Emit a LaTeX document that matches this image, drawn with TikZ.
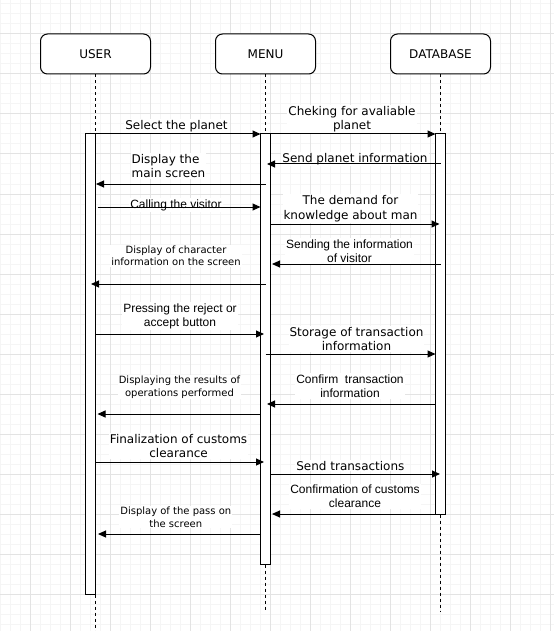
\documentclass[tikz,border=0pt]{standalone}
\usepackage{fontspec}
\setmainfont{DejaVu Sans}
\newfontfamily\arialf{Liberation Sans}
\usetikzlibrary{arrows.meta}
\begin{document}
\begin{tikzpicture}[x=1pt,y=-1pt,
  big/.style={font=\fontsize{12}{14.4}\selectfont, align=center, inner sep=1pt, fill=white},
  med/.style={font=\arialf\fontsize{12}{14.4}\selectfont, align=center, inner sep=1pt, fill=white},
  small/.style={font=\fontsize{10}{12.4}\selectfont, align=center, inner sep=1pt, fill=white},
  actor/.style={draw, line width=1pt, rounded corners=7pt, minimum height=40pt, inner sep=0pt, font=\fontsize{12}{14.4}\selectfont, fill=white},
  bar/.style={draw, line width=1pt, fill=white, minimum width=10pt, inner sep=0pt},
  life/.style={line width=0.9pt, dash pattern=on 3pt off 3pt},
  msg/.style={line width=1pt, -{Triangle[length=8pt,width=7pt]}},
  minorgrid/.style={line width=1pt, draw=black!4},
  majorgrid/.style={line width=1pt, draw=black!11},
]
\useasboundingbox (0,0) rectangle (554,631);
% grid
\begin{scope}
\clip (0,0) rectangle (554,631);
\foreach \x in {0.5,10.5,...,560} \draw[minorgrid] (\x,0) -- (\x,631);
\foreach \y in {4,14,...,640} \draw[minorgrid] (0,\y) -- (554,\y);
\foreach \x in {30.5,70.5,...,560} \draw[majorgrid] (\x,0) -- (\x,631);
\foreach \y in {34,74,...,640} \draw[majorgrid] (0,\y) -- (554,\y);
\end{scope}

% actors
\node[actor, minimum width=110pt] (user) at (95.5,54) {USER};
\node[actor, minimum width=100pt] (menu) at (265.5,54) {MENU};
\node[actor, minimum width=100pt] (db) at (440.5,54) {DATABASE};

% lifeline ends
\coordinate (uend) at (95.5,631);
\coordinate (mend) at (265.5,612);
\coordinate (dend) at (440.5,612);

% activation bars
\node[bar, minimum height=460pt] (ubar) at (90.5,364) {};
\node[bar, minimum height=430pt] (mbar) at (265.5,349) {};
\node[bar, minimum height=380pt] (dbar) at (440.5,324) {};

% lifelines
\draw[life] (user.south) -- (user.south |- ubar.north);
\draw[life] (user.south |- ubar.south) -- (uend);
\draw[life] (menu.south) -- (mbar.north);
\draw[life] (mbar.south) -- (mend);
\draw[life] (db.south) -- (dbar.north);
\draw[life] (dbar.south) -- (dend);

% labels
\node[big] (l1) at (176.5,126) {Select the planet};
\node[big] (l2) at (352,119) {Cheking for avaliable\\planet};
\node[big] (l3) at (355,159) {Send planet information};
\node[big, align=left] (l4) at (168.5,166) {Display the\\main screen};
\node[med] (l5) at (176,205) {Calling the visitor};
\node[big] (l6) at (350.5,208.5) {The demand for\\knowledge about man};
\node[med] (l7) at (349.5,251) {Sending the information\\of visitor};
\node[small] (l8) at (176,256) {Display of character\\information on the screen};
\node[med] (l9) at (180,316.2) {Pressing the reject or\\accept button};
\node[big] (l10) at (356.5,338.8) {Storage of transaction\\information};
\node[small] (l11) at (179.5,387.2) {Displaying the results of\\operations performed};
\node[med] (l12) at (350,386) {Confirm\ \ transaction\\information};
\node[big] (l13) at (178.6,446.3) {Finalization of customs\\clearance};
\node[big] (l14) at (350.4,465.8) {Send transactions};
\node[med] (l15) at (355,496.2) {Confirmation of customs\\clearance};
\node[small] (l16) at (175.8,517.2) {Display of the pass on\\the screen};

% message end points
\coordinate (m1s) at (95.5,134);  \coordinate (m1e) at (260.5,134);
\coordinate (m2s) at (270.5,134); \coordinate (m2e) at (435.5,134);
\coordinate (m3s) at (440.5,164); \coordinate (m3e) at (267,164);
\coordinate (m4s) at (265.5,184); \coordinate (m4e) at (96,184);
\coordinate (m5s) at (97.5,207);  \coordinate (m5e) at (260.5,207);
\coordinate (m6s) at (270.5,224); \coordinate (m6e) at (439.5,224);
\coordinate (m7s) at (440.5,264); \coordinate (m7e) at (272,264);
\coordinate (m8s) at (265.5,284); \coordinate (m8e) at (91,284);
\coordinate (m9s) at (95.5,334);  \coordinate (m9e) at (264,334);
\coordinate (m10s) at (265.5,354); \coordinate (m10e) at (435.5,354);
\coordinate (m11s) at (260.5,414); \coordinate (m11e) at (97.5,414);
\coordinate (m12s) at (435.5,404); \coordinate (m12e) at (267,404);
\coordinate (m13s) at (95.5,462); \coordinate (m13e) at (264,462);
\coordinate (m14s) at (270.5,474); \coordinate (m14e) at (440,474);
\coordinate (m15s) at (435.5,514); \coordinate (m15e) at (272,514);
\coordinate (m16s) at (261,534);  \coordinate (m16e) at (98,534);

\foreach \i in {1,...,16} \draw[msg] (m\i s) -- (m\i e);
\end{tikzpicture}
\end{document}
